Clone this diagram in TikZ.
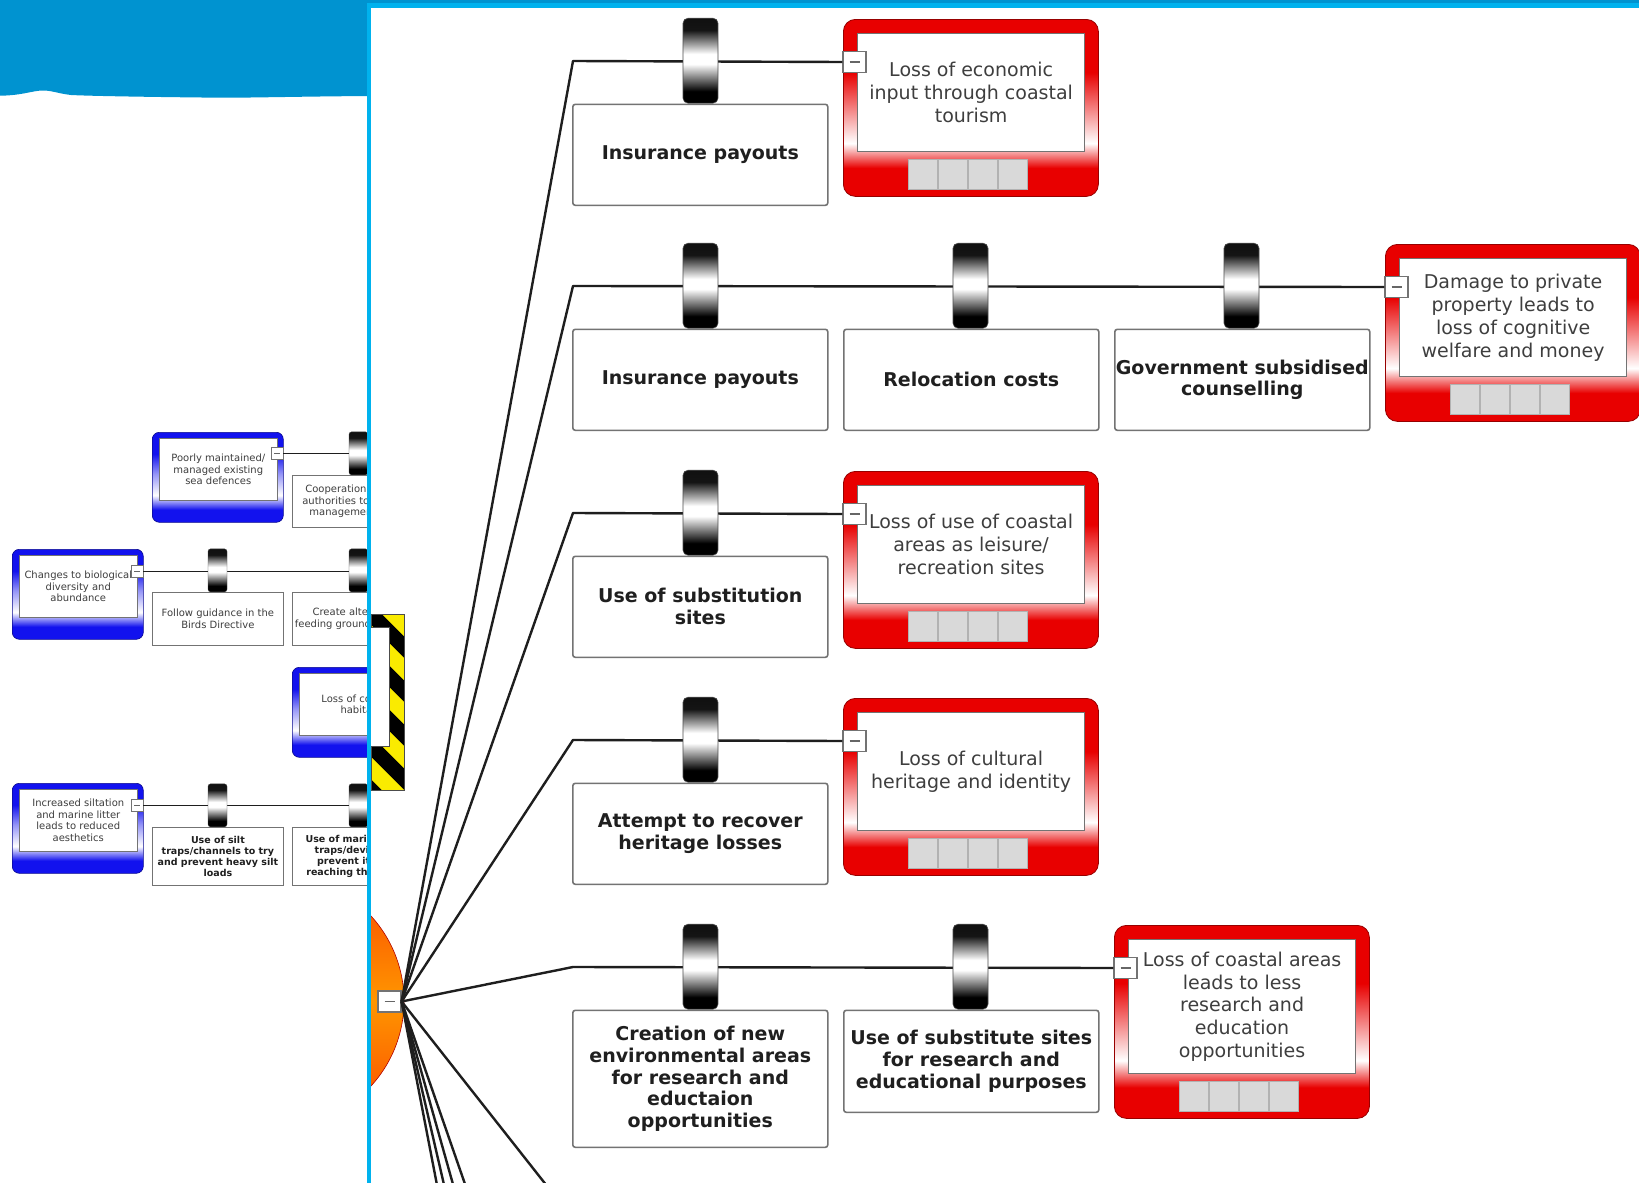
\documentclass[tikz,border=0pt]{standalone}
\usepackage{fontspec}
\setmainfont{DejaVu Sans}
\usetikzlibrary{calc}

\definecolor{bandblue}{RGB}{0,147,208}
\definecolor{framelb}{RGB}{0,178,238}
\definecolor{rb}{RGB}{232,0,0}
\definecolor{bb}{RGB}{18,18,238}
\definecolor{txtgray}{RGB}{62,62,62}
\definecolor{hzyellow}{RGB}{250,235,0}
\definecolor{linec}{RGB}{30,30,30}
\definecolor{hubred}{RGB}{250,70,0}
\definecolor{hubor}{RGB}{255,150,0}

\pgfdeclareverticalshading{redframe}{100bp}{color(0bp)=(rb); color(33bp)=(rb); color(40bp)=(white); color(50bp)=(rb!50!white); color(60bp)=(rb); color(100bp)=(rb)}
\pgfdeclareverticalshading{blueframe}{100bp}{color(0bp)=(bb); color(32bp)=(bb); color(40bp)=(white); color(52bp)=(bb!45!white); color(63bp)=(bb); color(100bp)=(bb)}
\pgfdeclareverticalshading{barrierfill}{100bp}{color(0bp)=(black); color(32bp)=(black); color(48bp)=(white); color(54bp)=(white); color(68bp)=(black!92); color(100bp)=(black)}

\tikzset{
 conn/.style={line width=2.4pt, draw=linec, line join=round},
 lconn/.style={line width=1.2pt, draw=linec},
 rtext/.style={font=\fontsize{19}{22.8}\selectfont, text=txtgray, align=center},
 btext/.style={font=\fontsize{19}{21.8}\selectfont\bfseries, text=black!88, align=center},
 consframe/.style={shade, shading=redframe, rounded corners=12pt, draw=rb!65!black, line width=0.8pt, minimum width=255pt, inner sep=0pt},
 consinner/.style={fill=white, draw=black!55, line width=1.2pt, minimum width=227pt, inner sep=0pt, rtext},
 actionbox/.style={draw=black!55, fill=white, line width=1.6pt, rounded corners=2.5pt, minimum width=255pt, inner sep=0pt, btext},
 barrier/.style={shade, shading=barrierfill, rounded corners=5pt, draw=black!70, line width=0.6pt, minimum width=35pt, minimum height=85pt, inner sep=0pt},
 minusbox/.style={fill=white, draw=black!55, line width=1.2pt, minimum width=23pt, minimum height=21pt, inner sep=0pt},
 minusdash/.style={draw=black!60, line width=1.6pt},
 sq/.style={fill=black!15, draw=black!30, line width=0.6pt, minimum width=28.5pt, minimum height=30pt, inner sep=0pt},
 ltext/.style={font=\fontsize{10}{11.8}\selectfont, text=txtgray, align=center},
 lbold/.style={font=\fontsize{9.5}{11.2}\selectfont\bfseries, text=black!88, align=center},
 lframe/.style={shade, shading=blueframe, rounded corners=7pt, draw=bb!60!black, line width=0.6pt, minimum width=131pt, minimum height=90pt, inner sep=0pt},
 linner/.style={fill=white, draw=black!55, line width=0.6pt, minimum width=118pt, minimum height=62pt, inner sep=0pt, ltext},
 laction/.style={draw=black!55, fill=white, line width=0.8pt, minimum width=131pt, inner sep=0pt},
 lbarrier/.style={shade, shading=barrierfill, rounded corners=2.5pt, draw=black!70, line width=0.3pt, minimum width=19pt, minimum height=43pt, inner sep=0pt},
 lminus/.style={fill=white, draw=black!55, line width=0.6pt, minimum width=12pt, minimum height=12pt, inner sep=0pt},
}

% consequence box: name, x, top, height, line y, text
\newcommand\consq[6]{%
 \node[consframe, minimum height=#4pt, anchor=north west] (#1) at (#2,#3) {};
 \pgfmathsetmacro\cih{#4-59}
 \node[consinner, minimum height=\cih pt, anchor=north west] (#1i) at (#2+14,#3+14) {#6};
 \foreach \q in {0,1,2,3}{\node[sq, anchor=north west] (#1s\q) at (#2+65+30*\q, #3+#4-37) {};}
 \node[minusbox] (#1m) at (#2+11.5,#5+1) {};
 \draw[minusdash] ($(#1m.center)+(-5,0)$) -- ($(#1m.center)+(5,0)$);
}
% action box: name, x, top, height, text
\newcommand\actbox[5]{\node[actionbox, minimum height=#4pt, anchor=north west] (#1) at (#2,#3) {#5};}
% barrier: name, center x, line y
\newcommand\barr[3]{\node[barrier, anchor=south] (#1) at (#2,#3+42.5) {};}
% left cause: name, x, top, line y, text
\newcommand\lcause[5]{%
 \node[lframe, anchor=north west] (#1) at (#2,#3) {};
 \node[linner, anchor=north west] (#1i) at (#2+7,#3+6) {#5};
 \node[lminus] (#1m) at (#2+125,#4) {};
 \draw[black!60, line width=0.8pt] ($(#1m.center)+(-3,0)$) -- ($(#1m.center)+(3,0)$);
}
% left action: name, x, top, height, text style, text
\newcommand\lact[6]{\node[laction, #5, minimum height=#4pt, anchor=north west] (#1) at (#2,#3) {#6};}
% left barrier: name, center x, bottom y
\newcommand\lbarr[3]{\node[lbarrier, anchor=south] (#1) at (#2,#3) {};}

\begin{document}
\begin{tikzpicture}[x=1pt,y=-1pt]
\useasboundingbox (0,0) rectangle (1639,1183);
\clip (0,0) rectangle (1639,1183);
\fill[white] (0,0) rectangle (1639,1183);

% ---------- top band ----------
\fill[bandblue] (0,0) -- (369,0) -- (369,96)
  .. controls (300,96.5) and (250,97.8) .. (221,97.7)
  .. controls (150,97) and (90,96) .. (71,95)
  .. controls (58,93.5) and (52,90.5) .. (43,90.5)
  .. controls (33,90.5) and (22,95.5) .. (0,95.7) -- cycle;
\fill[bandblue] (0,0) rectangle (1639,3);

% ---------- background bow-tie (left) ----------
\begin{scope}
\clip (0,0) rectangle (368,1183);
% A
\lcause{ca}{152}{432}{453.5}{Poorly maintained/\\managed existing\\sea defences}
\coordinate (caend) at (380,453.5);
\draw[lconn] (cam.east) -- (caend);
\lbarr{ba1}{358.5}{475}
\lact{aa1}{292}{475}{52}{ltext}{Cooperation with the\\authorities to improve\\management plans}
% B
\lcause{cb}{12}{549}{571.5}{Changes to biological\\diversity and\\abundance}
\coordinate (cbend) at (380,571.5);
\draw[lconn] (cbm.east) -- (cbend);
\lbarr{bb1}{217.5}{592}
\lact{ab1}{152}{592}{53}{ltext}{Follow guidance in the\\Birds Directive}
\lbarr{bb2}{358.5}{592}
\lact{ab2}{292}{592}{53}{ltext}{Create alternative\\feeding grounds for birds}
% C
\node[lframe, anchor=north west] (cc) at (292,667) {};
\node[linner, anchor=north west] (cci) at (299,673) {Loss of coastal\\habitat};
% D
\lcause{cd}{12}{783}{805.5}{Increased siltation\\and marine litter\\leads to reduced\\aesthetics}
\coordinate (cdend) at (380,805.5);
\draw[lconn] (cdm.east) -- (cdend);
\lbarr{bd1}{217.5}{827}
\lact{ad1}{152}{827}{58}{lbold}{Use of silt\\traps/channels to try\\and prevent heavy silt\\loads}
\lbarr{bd2}{358.5}{827}
\lact{ad2}{292}{827}{58}{lbold}{Use of marine litter\\traps/devices to\\prevent it from\\reaching the beach}
\end{scope}

% ---------- main panel ----------
\begin{scope}
\clip (371,8) rectangle (1639,1183);

% hazard
\begin{scope}
\clip (371,614) rectangle (404,790);
\fill[hzyellow] (371,614) rectangle (404,790);
\foreach \k in {495,539,...,847}{\draw[black, line width=15pt] (340,\k) -- (440,\k+100);}
\end{scope}
\node[draw=black!70, line width=1pt, minimum width=33pt, minimum height=176pt, inner sep=0pt, anchor=north west] (hazard) at (371,614) {};
\node[fill=white, draw=black!70, line width=0.8pt, minimum width=24pt, minimum height=119pt, inner sep=0pt, anchor=north east] (hazardlabel) at (390,627) {};

% top event
\shade[top color=hubred, bottom color=hubred, middle color=hubor, draw=red!70!black, line width=0.6pt] (278,1001) circle (126pt);
\node[minusbox] (hubm) at (389.5,1001.5) {};
\draw[minusdash] ($(hubm.center)+(-5,0)$) -- ($(hubm.center)+(5,0)$);

% consequences
\consq{k1}{843}{19}{177}{61}{Loss of economic\\input through coastal\\tourism}
\consq{k2}{1385}{244}{177}{286}{Damage to private\\property leads to\\loss of cognitive\\welfare and money}
\consq{k3}{843}{471}{177}{513}{Loss of use of coastal\\areas as leisure/\\recreation sites}
\consq{k4}{843}{698}{177}{740}{Loss of cultural\\heritage and identity}
\consq{k5}{1114}{925}{193}{967}{Loss of coastal areas\\leads to less\\research and\\education\\opportunities}

% connectors
\coordinate (c1) at (573,61);
\coordinate (c2) at (573,286);
\coordinate (c3) at (573,513);
\coordinate (c4) at (573,740);
\coordinate (c5) at (573,967);
\coordinate (c6) at (573,1219);
\coordinate (c7) at (573,1495);
\coordinate (c8) at (573,1611);
\coordinate (c9) at (573,1742);
\coordinate (c10) at (573,1890);
\draw[conn] (hubm.east) -- (c1) -- (k1m.west);
\draw[conn] (hubm.east) -- (c2) -- (k2m.west);
\draw[conn] (hubm.east) -- (c3) -- (k3m.west);
\draw[conn] (hubm.east) -- (c4) -- (k4m.west);
\draw[conn] (hubm.east) -- (c5) -- (k5m.west);
\draw[conn] (hubm.east) -- (c6);
\draw[conn] (hubm.east) -- (c7);
\draw[conn] (hubm.east) -- (c8);
\draw[conn] (hubm.east) -- (c9);
\draw[conn] (hubm.east) -- (c10);

% row 1
\barr{b11}{700.5}{61}
\actbox{a11}{572}{103.5}{101}{Insurance payouts}
% row 2
\barr{b21}{700.5}{286}
\barr{b22}{970.5}{286}
\barr{b23}{1241.5}{286}
\actbox{a21}{572}{328.5}{101}{Insurance payouts}
\actbox{a22}{843}{328.5}{101}{Relocation costs}
\actbox{a23}{1114}{328.5}{101}{Government subsidised\\counselling}
% row 3
\barr{b31}{700.5}{513}
\actbox{a31}{572}{555.5}{101}{Use of substitution\\sites}
% row 4
\barr{b41}{700.5}{740}
\actbox{a41}{572}{782.5}{101}{Attempt to recover\\heritage losses}
% row 5
\barr{b51}{700.5}{967}
\barr{b52}{970.5}{967}
\actbox{a51}{572}{1009.5}{137}{Creation of new\\environmental areas\\for research and\\eductaion\\opportunities}
\actbox{a52}{843}{1009.5}{102}{Use of substitute sites\\for research and\\educational purposes}
\end{scope}

% panel frame
\fill[framelb] (366.5,3) rectangle (1639,8);
\fill[framelb] (366.5,3) rectangle (371,1183);
\end{tikzpicture}
\end{document}
